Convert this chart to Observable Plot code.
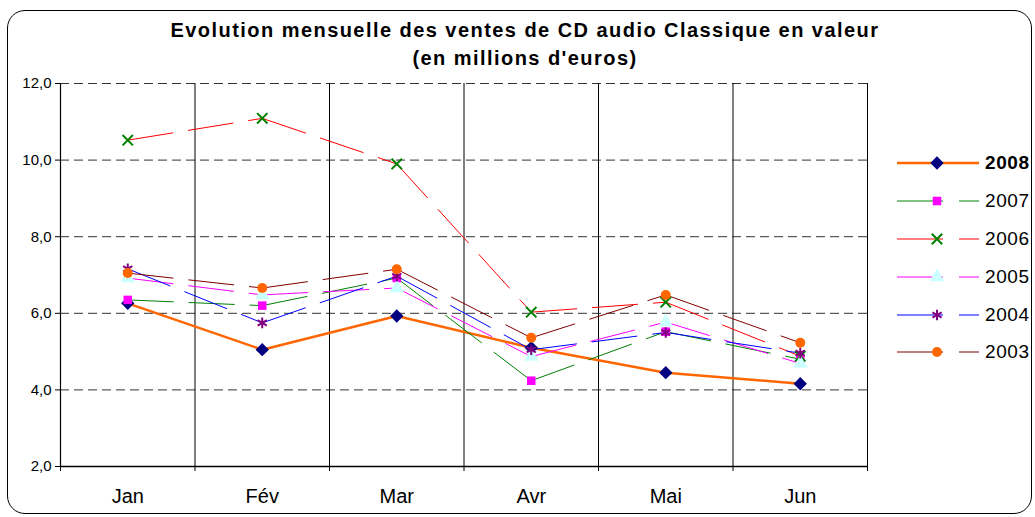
<!DOCTYPE html>
<html>
<head>
<meta charset="utf-8">
<script src="https://cdn.jsdelivr.net/npm/d3@7"></script>
<script src="https://cdn.jsdelivr.net/npm/@observablehq/plot@0.6"></script>
<style>
  html, body { margin: 0; padding: 0; background: #fff; }
  #wrap { position: relative; width: 1035px; height: 517px; overflow: hidden; font-family: "Liberation Sans", Arial, sans-serif; }
  #frame { position: absolute; left: 7px; top: 10px; width: 1025px; height: 504px; border: 1.5px solid #000; border-radius: 18px; box-sizing: border-box; }
  #title { position: absolute; left: 10px; width: 1030px; top: 16px; text-align: center; font-weight: bold; font-size: 20px; line-height: 28px; letter-spacing: 1.45px; color: #000; }
  #chart { position: absolute; left: 0; top: 0; }
  #legend { position: absolute; left: 897px; top: 144px; }
  .row { display: flex; align-items: center; height: 37.9px; }
  .row span { font-size: 19px; margin-left: 6px; letter-spacing: 0.6px; color: #000; }
</style>
</head>
<body>
<div id="wrap">
  <div id="frame"></div>
  <div id="title">Evolution mensuelle des ventes de CD audio Classique en valeur<br>(en millions d'euros)</div>
  <div id="chart"></div>
  <div id="legend"></div>
</div>
<script>
const months = ["Jan", "Fév", "Mar", "Avr", "Mai", "Jun"];
const yTicks = [2, 4, 6, 8, 10, 12];
const years = ["2008", "2007", "2006", "2005", "2004", "2003"];
const v2008 = [6.26, 5.05, 5.93, 5.10, 4.45, 4.16];
const v2007 = [6.35, 6.20, 6.92, 4.24, 5.52, 4.80];
const v2006 = [10.52, 11.09, 9.90, 6.03, 6.29, 4.88];
const v2005 = [6.92, 6.48, 6.66, 4.87, 5.77, 4.69];
const v2004 = [7.16, 5.75, 6.97, 5.05, 5.50, 4.96];
const v2003 = [7.05, 6.66, 7.15, 5.36, 6.48, 5.23];

const styles = {
  "2008": {values: v2008, line: "#ff6600", width: 2.5, dash: null, symbol: "diamond2", d3sym: d3.symbolDiamond2, fill: "#000080", stroke: null, r: 6},
  "2007": {values: v2007, line: "#008000", width: 1, dash: "46,15", symbol: "square", d3sym: d3.symbolSquare, fill: "#ff00ff", stroke: null, r: 4.8},
  "2006": {values: v2006, line: "#ff0000", width: 1, dash: "46,15", symbol: "times", d3sym: d3.symbolTimes, fill: null, stroke: "#008000", r: 4.8},
  "2005": {values: v2005, line: "#ff00ff", width: 1, dash: "46,15", symbol: "triangle", d3sym: d3.symbolTriangle, fill: "#ccffff", stroke: null, r: 5.5},
  "2004": {values: v2004, line: "#0000ff", width: 1, dash: "46,15", symbol: "asterisk", d3sym: d3.symbolAsterisk, fill: null, stroke: "#800080", r: 5},
  "2003": {values: v2003, line: "#800000", width: 1, dash: "46,15", symbol: "circle", d3sym: d3.symbolCircle, fill: "#ff6600", stroke: null, r: 5}
};

const idx = months.map((m, i) => i);
const bounds = months.map((m, i) => i + 0.5);
const fmt = d => d.toFixed(1).replace(".", ",");

const lineMarks = years.map(yr => {
  const s = styles[yr];
  const segs = idx.slice(0, -1).map(i => ({x1: i, y1: s.values[i], x2: i + 1, y2: s.values[i + 1]}));
  return Plot.link(segs, {x1: "x1", y1: "y1", x2: "x2", y2: "y2", stroke: s.line, strokeWidth: s.width, strokeDasharray: s.dash ?? undefined});
});
const dotMarks = years.map(yr => {
  const s = styles[yr];
  const pts = idx.map(i => ({x: i, y: s.values[i]}));
  const o = {x: "x", y: "y", symbol: s.symbol, r: s.r};
  if (s.fill) { o.fill = s.fill; o.stroke = "none"; }
  else { o.fill = "none"; o.stroke = s.stroke; o.strokeWidth = 2; }
  return Plot.dot(pts, o);
});

const chart = Plot.plot({
  width: 1035,
  height: 517,
  marginLeft: 60,
  marginRight: 168,
  marginTop: 83,
  marginBottom: 51,
  style: {background: "transparent", fontFamily: "Liberation Sans, Arial, sans-serif", color: "#000"},
  x: {type: "linear", domain: [-0.5, 5.5]},
  y: {type: "linear", domain: [2, 12]},
  marks: [
    Plot.ruleY(yTicks.slice(1), {stroke: "#333", strokeWidth: 1, strokeDasharray: "9,5"}),
    Plot.ruleX(bounds, {stroke: "#000", strokeWidth: 1}),
    Plot.ruleX([-0.5], {stroke: "#000", strokeWidth: 1.2}),
    Plot.ruleY([2], {stroke: "#000", strokeWidth: 1.5}),
    Plot.axisY({ticks: yTicks, tickFormat: fmt, tickSize: 5, tickPadding: 4, fontSize: 15, label: null, stroke: "#000"}),
    Plot.axisX({ticks: [-0.5, ...bounds], tickSize: 5, tickFormat: () => "", label: null}),
    Plot.axisX({ticks: idx, tickSize: 0, tickPadding: 22, tickFormat: i => months[i], fontSize: 20, label: null}),
    ...lineMarks,
    ...dotMarks
  ]
});
document.getElementById("chart").appendChild(chart);

// Legend
const legend = d3.select("#legend");
years.forEach(yr => {
  const s = styles[yr];
  const row = legend.append("div").attr("class", "row");
  const svg = row.append("svg").attr("width", 82).attr("height", 20);
  svg.append("line").attr("x1", 0).attr("x2", 82).attr("y1", 10).attr("y2", 10)
    .attr("stroke", s.line).attr("stroke-width", s.width)
    .attr("stroke-dasharray", s.dash ? "46,16,20" : null);
  const p = svg.append("path").attr("transform", "translate(40,10)")
    .attr("d", d3.symbol(s.d3sym, Math.PI * s.r * s.r)());
  if (s.fill) p.attr("fill", s.fill);
  else p.attr("fill", "none").attr("stroke", s.stroke).attr("stroke-width", 2);
  row.append("span").text(yr).style("font-weight", yr === "2008" ? "bold" : "normal");
});
</script>
</body>
</html>
